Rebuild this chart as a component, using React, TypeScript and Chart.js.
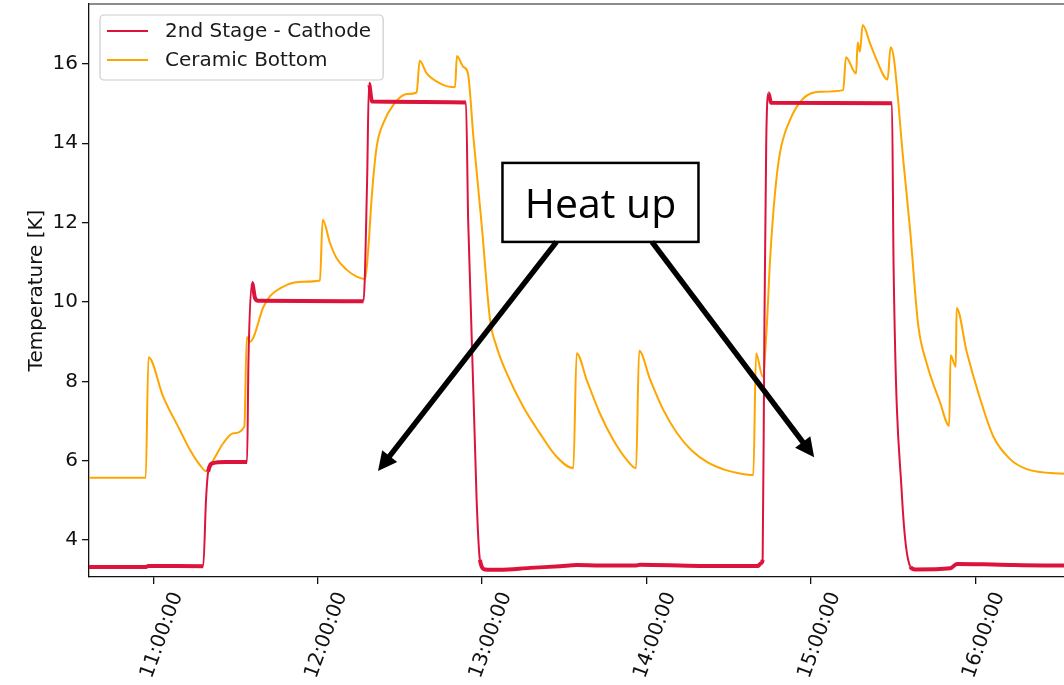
import React, { useEffect, useRef } from "react";
import { Chart, registerables } from "chart.js";

Chart.register(...registerables);

// Axis ticks
const hourTicks = ["11:00:00", "12:00:00", "13:00:00", "14:00:00", "15:00:00", "16:00:00"];
const tempTicks = [4, 6, 8, 10, 12, 14, 16];
const timeRange = ["10:36:30", "16:32:24"];
const tempRange = [3.07, 17.51];

// 2nd Stage - Cathode
const cathodeTimes = [
  "10:35:00", "10:57:18", "10:58:06", "11:18:12", "11:19:12", "11:20:00", "11:21:48", "11:26:12",
  "11:34:12", "11:34:42", "11:36:00", "11:37:06", "11:38:12", "12:16:42", "12:18:00", "12:18:42",
  "12:19:48", "12:54:06", "12:54:54", "12:58:00", "12:59:12", "13:01:06", "13:06:30", "13:17:30",
  "13:28:24", "13:34:36", "13:43:00", "13:56:12", "13:57:36", "14:19:30", "14:40:42", "14:41:48",
  "14:42:24", "14:43:00", "14:43:42", "14:44:30", "14:45:30", "15:29:36", "15:30:12", "15:33:12",
  "15:36:18", "15:38:06", "15:50:54", "15:53:18", "16:09:00", "16:32:24", "16:35:00",
];
const cathodeTemps = [
  3.32, 3.32, 3.35, 3.34, 5.0, 5.72, 5.94, 5.97,
  5.97, 8.5, 10.48, 10.1, 10.03, 10.02, 13.0, 15.5,
  15.05, 15.03, 12.07, 5.0, 3.5, 3.26, 3.25, 3.3,
  3.34, 3.37, 3.36, 3.36, 3.38, 3.35, 3.35, 3.42,
  3.5, 9.0, 14.0, 15.26, 15.02, 15.01, 10.86, 5.17,
  3.33, 3.26, 3.29, 3.4, 3.38, 3.36, 3.36,
];

// Ceramic Bottom
const ceramicTimes = [
  "10:35:00", "10:57:12", "10:58:12", "11:03:36", "11:09:42", "11:13:24", "11:17:00", "11:19:12",
  "11:21:54", "11:25:30", "11:29:12", "11:33:12", "11:34:06", "11:35:18", "11:40:12", "11:42:36",
  "11:48:42", "11:54:42", "12:00:48", "12:01:48", "12:04:30", "12:06:54", "12:10:36", "12:14:12",
  "12:17:18", "12:18:30", "12:19:42", "12:21:30", "12:23:54", "12:27:36", "12:32:30", "12:36:06",
  "12:37:12", "12:39:48", "12:44:36", "12:50:06", "12:50:48", "12:53:06", "12:54:48", "12:56:48",
  "12:59:54", "13:02:54", "13:05:18", "13:09:00", "13:15:00", "13:21:06", "13:27:12", "13:33:18",
  "13:34:30", "13:38:12", "13:43:00", "13:47:54", "13:52:48", "13:56:12", "13:57:18", "14:01:18",
  "14:06:00", "14:11:06", "14:16:36", "14:22:30", "14:28:36", "14:34:06", "14:39:00", "14:40:00",
  "14:42:24", "14:43:54", "14:45:06", "14:46:54", "14:48:42", "14:52:24", "14:57:12", "15:03:18",
  "15:11:48", "15:12:48", "15:16:30", "15:17:06", "15:17:54", "15:18:54", "15:21:36", "15:24:00",
  "15:28:00", "15:29:06", "15:30:18", "15:33:42", "15:36:12", "15:39:12", "15:42:18", "15:47:06",
  "15:50:30", "15:51:00", "15:52:54", "15:53:12", "15:56:54", "16:01:42", "16:06:36", "16:12:42",
  "16:18:48", "16:32:24", "16:35:00",
];
const ceramicTemps = [
  5.57, 5.57, 8.61, 7.61, 6.77, 6.27, 5.89, 5.74,
  6.02, 6.44, 6.69, 6.86, 9.12, 9.0, 9.88, 10.15,
  10.43, 10.51, 10.54, 12.07, 11.48, 11.1, 10.81, 10.64,
  10.58, 11.39, 12.65, 13.91, 14.5, 14.97, 15.24, 15.28,
  16.08, 15.76, 15.51, 15.41, 16.2, 15.93, 15.77, 14.17,
  11.9, 9.55, 8.87, 8.2, 7.36, 6.69, 6.1, 5.81,
  8.71, 8.03, 7.19, 6.52, 6.02, 5.81, 8.77, 8.05,
  7.3, 6.7, 6.25, 5.95, 5.77, 5.68, 5.64, 8.71,
  8.12, 9.38, 11.06, 12.74, 13.75, 14.59, 15.13, 15.3,
  15.34, 16.17, 15.76, 16.54, 16.31, 16.98, 16.52, 16.1,
  15.61, 16.42, 16.14, 13.6, 11.83, 9.41, 8.45, 7.48,
  6.88, 8.66, 8.37, 9.85, 8.74, 7.58, 6.61, 6.04,
  5.79, 5.67, 5.66,
];

// Callout: a framed label with two arrows pointing at the heat-up phases
const calloutText = "Heat up";
const calloutAnchor = { time: "13:43:12", temp: 12.51 };
const arrowTips = [
  { time: "12:22:00", temp: 5.74, startDx: -44 },
  { time: "15:01:12", temp: 6.09, startDx: 51.5 },
];

const AXIS_FONT = "'DejaVu Sans', 'Liberation Sans', sans-serif";
const CATHODE_COLOR = "#DC143C";
const CERAMIC_COLOR = "#FFA500";

function toMinutes(t: string): number {
  const [h, m, s] = t.split(":").map(Number);
  return h * 60 + m + (s || 0) / 60;
}

function drawArrow(ctx: CanvasRenderingContext2D, x0: number, y0: number, x1: number, y1: number) {
  const dx = x1 - x0;
  const dy = y1 - y0;
  const len = Math.hypot(dx, dy);
  const ux = dx / len;
  const uy = dy / len;
  const headLen = 19;
  const headHalf = 9.5;
  const bx = x1 - ux * headLen;
  const by = y1 - uy * headLen;
  ctx.save();
  ctx.strokeStyle = "#000";
  ctx.fillStyle = "#000";
  ctx.lineWidth = 5.5;
  ctx.lineCap = "butt";
  ctx.beginPath();
  ctx.moveTo(x0, y0);
  ctx.lineTo(bx + ux * 3, by + uy * 3);
  ctx.stroke();
  ctx.beginPath();
  ctx.moveTo(x1, y1);
  ctx.lineTo(bx - uy * headHalf, by + ux * headHalf);
  ctx.lineTo(bx + uy * headHalf, by - ux * headHalf);
  ctx.closePath();
  ctx.fill();
  ctx.restore();
}

const overlayPlugin = {
  id: "overlay",
  afterDraw(chart: any) {
    const { ctx, chartArea, scales } = chart;
    const area = chartArea;

    // top frame line
    ctx.save();
    ctx.strokeStyle = "#666";
    ctx.lineWidth = 1.3;
    ctx.beginPath();
    ctx.moveTo(area.left, area.top);
    ctx.lineTo(area.right, area.top);
    ctx.stroke();
    ctx.restore();

    // legend
    ctx.save();
    ctx.font = `20px ${AXIS_FONT}`;
    const datasets = chart.data.datasets;
    const boxLeft = area.left + 11;
    const boxTop = area.top + 11;
    const textX = boxLeft + 65;
    const rowH = 29;
    let maxW = 0;
    datasets.forEach((d: any) => {
      maxW = Math.max(maxW, ctx.measureText(d.label).width);
    });
    const boxW = textX - boxLeft + maxW + 12;
    const boxH = rowH * datasets.length + 7;
    ctx.fillStyle = "rgba(255,255,255,0.8)";
    ctx.strokeStyle = "#cccccc";
    ctx.lineWidth = 1.2;
    ctx.beginPath();
    (ctx as any).roundRect(boxLeft, boxTop, boxW, boxH, 4);
    ctx.fill();
    ctx.stroke();
    datasets.forEach((d: any, i: number) => {
      const cy = boxTop + 16 + i * rowH;
      ctx.strokeStyle = d.borderColor;
      ctx.lineWidth = 2;
      ctx.beginPath();
      ctx.moveTo(boxLeft + 7, cy);
      ctx.lineTo(boxLeft + 48, cy);
      ctx.stroke();
      ctx.fillStyle = "#1a1a1a";
      ctx.textBaseline = "middle";
      ctx.textAlign = "left";
      ctx.fillText(d.label, textX, cy + 1);
    });
    ctx.restore();

    // callout
    const cx = scales.x.getPixelForValue(toMinutes(calloutAnchor.time));
    const cy = scales.y.getPixelForValue(calloutAnchor.temp);
    const w = 196;
    const h = 79;
    ctx.save();
    ctx.fillStyle = "#fff";
    ctx.fillRect(cx - w / 2, cy - h / 2, w, h);
    ctx.strokeStyle = "#000";
    ctx.lineWidth = 2.5;
    ctx.strokeRect(cx - w / 2, cy - h / 2, w, h);
    ctx.fillStyle = "#000";
    ctx.font = "41px 'Open Sans', Lato, sans-serif";
    ctx.textAlign = "center";
    ctx.textBaseline = "alphabetic";
    ctx.fillText(calloutText, cx, cy + 15.5);
    ctx.restore();

    arrowTips.forEach((a) => {
      const tx = scales.x.getPixelForValue(toMinutes(a.time));
      const ty = scales.y.getPixelForValue(a.temp);
      drawArrow(ctx, cx + a.startDx, cy + h / 2, tx, ty);
    });
  },
};

export default function App() {
  const canvasRef = useRef<HTMLCanvasElement | null>(null);

  useEffect(() => {
    if (!canvasRef.current) return;
    const tickFont = { family: AXIS_FONT, size: 20 };
    const chart = new Chart(canvasRef.current, {
      type: "line",
      data: {
        datasets: [
          {
            label: "2nd Stage - Cathode",
            data: cathodeTimes.map((t, i) => ({ x: toMinutes(t), y: cathodeTemps[i] })),
            borderColor: CATHODE_COLOR,
            backgroundColor: CATHODE_COLOR,
            borderWidth: 2,
            pointRadius: 0,
            fill: false,
            cubicInterpolationMode: "monotone",
            segment: {
              borderWidth: (c: any) => (Math.abs(c.p1.parsed.y - c.p0.parsed.y) < 0.5 ? 4 : 2),
            },
          },
          {
            label: "Ceramic Bottom",
            data: ceramicTimes.map((t, i) => ({ x: toMinutes(t), y: ceramicTemps[i] })),
            borderColor: CERAMIC_COLOR,
            backgroundColor: CERAMIC_COLOR,
            borderWidth: 2,
            pointRadius: 0,
            fill: false,
            cubicInterpolationMode: "monotone",
          },
        ],
      },
      options: {
        animation: false,
        responsive: false,
        maintainAspectRatio: false,
        devicePixelRatio: 1,
        events: [],
        layout: { padding: { top: 4, right: 0, bottom: 0, left: 0 } },
        plugins: {
          legend: { display: false },
          tooltip: { enabled: false },
          title: { display: false },
        },
        scales: {
          x: {
            type: "linear",
            min: toMinutes(timeRange[0]),
            max: toMinutes(timeRange[1]),
            afterBuildTicks: (s: any) => {
              s.ticks = hourTicks.map((t) => ({ value: toMinutes(t) }));
            },
            afterFit: (s: any) => {
              s.height = 108;
              s.paddingLeft = 0;
              s.paddingRight = 0;
            },
            ticks: {
              autoSkip: false,
              minRotation: 70,
              maxRotation: 70,
              padding: 5,
              labelOffset: 24,
              color: "#111",
              font: tickFont,
              callback: (_v: any, i: number) => hourTicks[i],
            },
            grid: { drawOnChartArea: false, tickLength: 7, color: "#111", lineWidth: 1.3 },
            border: { color: "#111", width: 1.3 },
          },
          y: {
            type: "linear",
            min: tempRange[0],
            max: tempRange[1],
            afterBuildTicks: (s: any) => {
              s.ticks = tempTicks.map((v) => ({ value: v }));
            },
            afterFit: (s: any) => {
              s.width = 89;
              s.paddingTop = 0;
              s.paddingBottom = 0;
            },
            ticks: {
              padding: 4,
              color: "#111",
              font: tickFont,
              callback: (v: any) => String(v),
            },
            grid: { drawOnChartArea: false, tickLength: 7, color: "#111", lineWidth: 1.3 },
            border: { color: "#111", width: 1.3 },
            title: {
              display: true,
              text: "Temperature [K]",
              color: "#111",
              font: tickFont,
              padding: { top: 25, bottom: 0 },
            },
          },
        },
      },
      plugins: [overlayPlugin],
    } as any);
    return () => chart.destroy();
  }, []);

  return (
    <div style={{ position: "fixed", left: 0, top: 0, width: 1064, height: 685, background: "#fff", overflow: "hidden" }}>
      <canvas ref={canvasRef} width={1064} height={685} style={{ display: "block", width: 1064, height: 685 }} />
    </div>
  );
}
